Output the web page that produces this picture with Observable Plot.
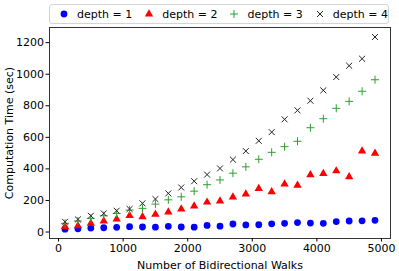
<!DOCTYPE html>
<html><head><meta charset="utf-8">
<script src="https://cdn.jsdelivr.net/npm/d3@7"></script>
<script src="https://cdn.jsdelivr.net/npm/@observablehq/plot@0.6"></script>
<style>
body{margin:0;background:#fff;}
#wrap{position:relative;width:399px;height:271px;font-family:"DejaVu Sans",sans-serif;}
#legend{position:absolute;left:49px;top:4px;width:340px;height:20px;box-sizing:border-box;border:1px solid #d4d4d4;border-radius:3px;background:#fff;display:flex;align-items:center;padding-left:10px;font-size:11px;color:#000;white-space:nowrap;}
#legend .item{display:flex;align-items:center;margin-right:13px;flex:none;}
#legend svg{margin-right:9px;overflow:visible;}
</style></head><body><div id="wrap"><div id="legend"></div></div>
<script>
const walks=[100,300,500,700,900,1100,1300,1500,1700,1900,2100,2300,2500,2700,2900,3100,3300,3500,3700,3900,4100,4300,4500,4700,4900];
const depth1=[18,20,25,27,30,34,32,31,36,32,31,42,37,51,45,46,52,55,60,57,55,66,70,71,74];
const depth2=[34,40,55,70,82,104,97,112,126,146,164,189,196,221,241,276,255,304,296,362,370,387,350,513,499];
const depth3=[55,70,87,103,118,139,150,177,204,223,259,300,330,373,413,461,505,541,575,661,718,784,828,892,965];
const depth4=[65,80,103,118,135,146,182,209,245,282,322,364,403,459,513,578,633,714,771,832,898,982,1054,1098,1236];
const seriesNames=["depth = 1","depth = 2","depth = 3","depth = 4"];
const xTicks=[0,1000,2000,3000,4000,5000];
const yTicks=[0,200,400,600,800,1000,1200];

const styles=[
  {symbol:"circle",fill:"#0000ff",stroke:"none",r:3.4},
  {symbol:"triangle",fill:"#ff0000",stroke:"none",r:3.1},
  {symbol:"plus",fill:"none",stroke:"#2ca02c",r:2.7},
  {symbol:"times",fill:"none",stroke:"#222",r:2.8}
];
const symFns=[d3.symbolCircle,d3.symbolTriangle,d3.symbolPlus,d3.symbolTimes];
const all=[depth1,depth2,depth3,depth4];
const tables=all.map(vals=>walks.map((w,i)=>({x:w,y:vals[i]})));

const marks=[Plot.frame({stroke:"#333",strokeWidth:1})];
tables.forEach((t,k)=>{
  const s=styles[k];
  marks.push(Plot.dot(t,{x:"x",y:"y",symbol:()=>s.symbol,r:s.r,fill:s.fill,stroke:s.stroke,strokeWidth:s.stroke==="none"?0:1}));
});
marks.push(Plot.axisX({ticks:xTicks,tickFormat:d3.format("d"),tickSize:3.5,tickPadding:2,label:"Number of Bidirectional Walks",labelAnchor:"center",labelOffset:30,labelArrow:"none",fontSize:11}));
marks.push(Plot.axisY({ticks:yTicks,tickFormat:d3.format("d"),tickSize:3.5,tickPadding:2,label:"Computation Time (sec)",labelAnchor:"center",labelOffset:44,labelArrow:"none",fontSize:11}));

const chart=Plot.plot({
  width:399,height:271,
  marginLeft:49,marginRight:9,marginTop:27,marginBottom:33,
  style:{fontFamily:"DejaVu Sans",fontSize:"11px",color:"#000",background:"#fff"},
  x:{domain:[-140,5140]},
  y:{domain:[-41,1296]},
  symbol:{type:"identity"},
  marks
});
const wrap=document.getElementById("wrap");
wrap.insertBefore(chart,wrap.firstChild);

const legend=document.getElementById("legend");
seriesNames.forEach((name,k)=>{
  const s=styles[k];
  const item=document.createElement("div");item.className="item";
  const svg=d3.create("svg").attr("width",8).attr("height",8);
  svg.append("path").attr("transform","translate(4,4)").attr("d",d3.symbol(symFns[k],Math.PI*s.r*s.r)())
    .attr("fill",s.fill).attr("stroke",s.stroke).attr("stroke-width",s.stroke==="none"?0:1);
  item.appendChild(svg.node());
  const span=document.createElement("span");span.textContent=name;item.appendChild(span);
  legend.appendChild(item);
});
</script>
</body></html>
